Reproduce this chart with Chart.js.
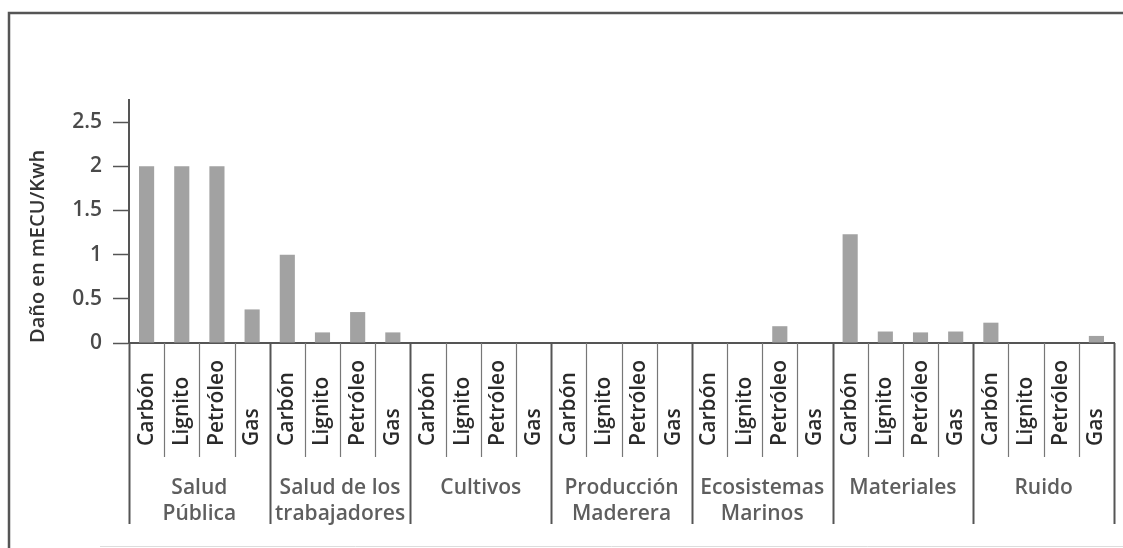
<!DOCTYPE html>
<html><head><meta charset="utf-8">
<script src="https://cdn.jsdelivr.net/npm/chart.js@4/dist/chart.umd.min.js"></script>
<style>html,body{margin:0;padding:0;background:#fff;overflow:hidden}#wrap{width:1123px;height:548px;position:relative}</style>
</head><body><div id="wrap"><canvas id="c" width="1123" height="548"></canvas></div>
<script>
// ---- data ----
const groups = [['Salud','Pública'],['Salud de los','trabajadores'],['Cultivos'],['Producción','Maderera'],['Ecosistemas','Marinos'],['Materiales'],['Ruido']];
const fuels = ['Carbón','Lignito','Petróleo','Gas'];
const saludPublica       = [2.0, 2.0, 2.0, 0.38];
const saludTrabajadores  = [1.0, 0.12, 0.35, 0.12];
const cultivos           = [0, 0, 0, 0];
const produccionMaderera = [0, 0, 0, 0];
const ecosistemasMarinos = [0, 0, 0.19, 0];
const materiales         = [1.23, 0.13, 0.12, 0.13];
const ruido              = [0.23, 0, 0, 0.08];
const yTicks = [0, 0.5, 1, 1.5, 2, 2.5];
const yTitle = 'Daño en mECU/Kwh';

const series = [saludPublica, saludTrabajadores, cultivos, produccionMaderera, ecosistemasMarinos, materiales, ruido];
const labels = [];
const values = [];
series.forEach(s => { s.forEach((v, i) => { labels.push(fuels[i]); values.push(v); }); });

const FONT = "'Open Sans', 'DejaVu Sans', sans-serif";
const AXIS = '#555';

const decor = {
  id: 'decor',
  afterDraw(chart) {
    const ctx = chart.ctx;
    const x = chart.scales.x;
    const ca = chart.chartArea;
    ctx.save();
    // outer frame (top and left)
    ctx.strokeStyle = '#555';
    ctx.lineWidth = 2.5;
    ctx.beginPath();
    ctx.moveTo(9, 548); ctx.lineTo(9, 13); ctx.lineTo(1123, 13);
    ctx.stroke();
    ctx.strokeStyle = '#ddd';
    ctx.lineWidth = 1;
    ctx.beginPath(); ctx.moveTo(100, 546.5); ctx.lineTo(1123, 546.5); ctx.stroke();

    // category separators
    const n = labels.length;
    for (let i = 0; i <= n; i++) {
      let bx;
      if (i === 0) bx = ca.left;
      else if (i === n) bx = ca.right;
      else bx = (x.getPixelForTick(i - 1) + x.getPixelForTick(i)) / 2;
      const isGroup = i % fuels.length === 0;
      ctx.strokeStyle = isGroup ? AXIS : '#777';
      ctx.lineWidth = isGroup ? 2 : 1.2;
      ctx.beginPath();
      ctx.moveTo(Math.round(bx) + 0.5, ca.bottom);
      ctx.lineTo(Math.round(bx) + 0.5, isGroup ? 524 : 457);
      ctx.stroke();
    }
    // category labels (rotated, bottom-aligned)
    ctx.fillStyle = '#2a2a2a';
    ctx.font = '600 21px ' + FONT;
    ctx.textAlign = 'left';
    ctx.textBaseline = 'middle';
    labels.forEach((lab, i) => {
      ctx.save();
      ctx.translate(x.getPixelForTick(i), 446);
      ctx.rotate(-Math.PI / 2);
      ctx.fillText(lab, 0, 0);
      ctx.restore();
    });
    // group labels
    ctx.fillStyle = '#5e5e5e';
    ctx.font = '600 21px ' + FONT;
    ctx.textAlign = 'center';
    ctx.textBaseline = 'middle';
    groups.forEach((g, gi) => {
      const first = x.getPixelForTick(gi * fuels.length);
      const last = x.getPixelForTick(gi * fuels.length + fuels.length - 1);
      const cx = (first + last) / 2;
      g.forEach((line, li) => ctx.fillText(line, cx, 488 + li * 26));
    });
    ctx.restore();
  }
};

new Chart(document.getElementById('c'), {
  type: 'bar',
  data: {
    labels: labels,
    datasets: [{
      data: values,
      backgroundColor: '#a2a2a2',
      borderWidth: 0,
      barPercentage: 0.43,
      categoryPercentage: 1.0
    }]
  },
  options: {
    responsive: false,
    animation: false,
    layout: { padding: { left: 0, top: 100, right: 9, bottom: 0 } },
    plugins: { legend: { display: false }, tooltip: { enabled: false }, title: { display: false } },
    scales: {
      x: {
        type: 'category',
        afterFit(s) { s.height = 205; },
        grid: { display: false, drawTicks: false },
        border: { display: true, color: AXIS, width: 2 },
        ticks: { display: false, autoSkip: false }
      },
      y: {
        min: 0, max: 2.75,
        afterFit(s) { s.width = 129; },
        afterBuildTicks(s) { s.ticks = yTicks.map(v => ({ value: v })); },
        grid: { drawOnChartArea: false, drawTicks: true, tickLength: 16, tickColor: AXIS, tickWidth: 1.5 },
        border: { display: true, color: AXIS, width: 2 },
        ticks: {
          padding: 11, color: '#4a4a4a',
          font: { family: FONT, size: 21, weight: '600' },
          callback: v => String(v)
        },
        title: {
          display: true, text: yTitle, align: 'start', color: '#333',
          font: { family: FONT, size: 20, weight: '600' },
          padding: { top: 26, bottom: 0 }
        }
      }
    }
  },
  plugins: [decor]
});
</script>
</body></html>
